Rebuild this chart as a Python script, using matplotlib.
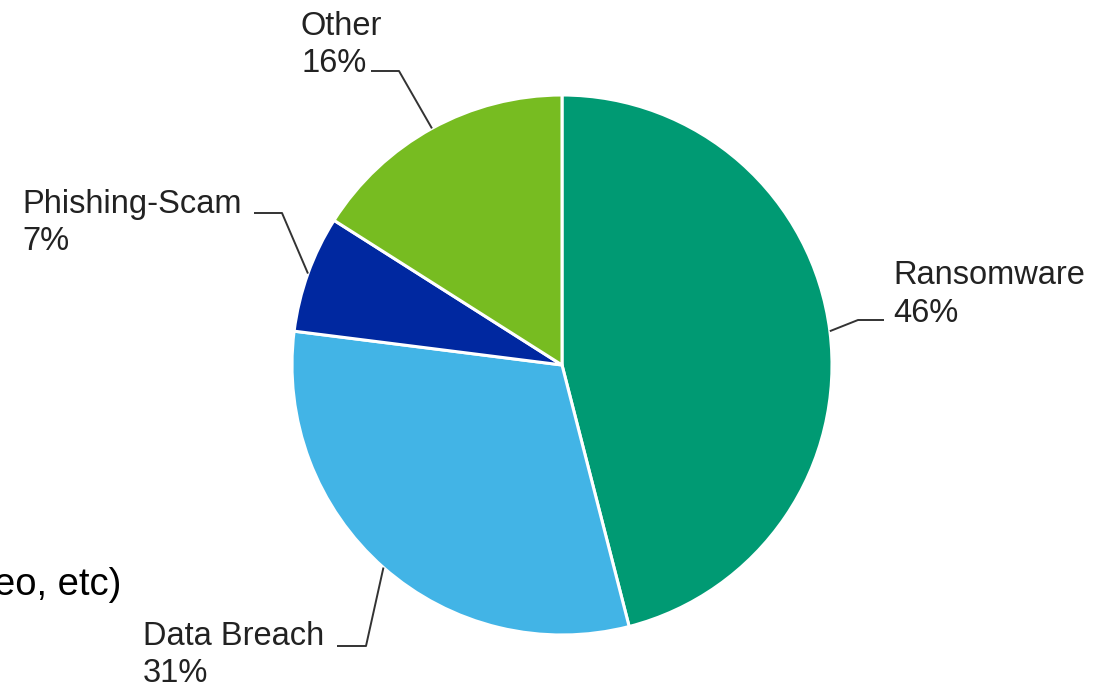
import numpy as np
import matplotlib.pyplot as plt

plt.rcParams['font.family'] = ['Liberation Sans', 'DejaVu Sans']

categories = ['Ransomware', 'Data Breach', 'Phishing-Scam', 'Other']
shares = [46, 31, 7, 16]
colors = ['#009A73', '#42B4E6', '#0028A0', '#77BC21']

W, H = 1118, 686
cx, cy, r = 562, 365, 270   # pixel layout of the pie (image coords, y down)

# label layout: elbow point (pixels), end of horizontal stroke, text x, baselines
label_layout = {
    'Ransomware':    dict(elbow=(858, 320), end=(884, 320), tx=893, base=(284, 322)),
    'Data Breach':   dict(elbow=(366, 646), end=(337, 646), tx=143, base=(645, 682)),
    'Phishing-Scam': dict(elbow=(282, 213), end=(254, 213), tx=22, base=(213, 250)),
    'Other':         dict(elbow=(399, 71), end=(371, 71), tx=301, base=(35, 72)),
}


def fy(y):
    return H - y


fig = plt.figure(figsize=(W / 100, H / 100), dpi=100)
ax = fig.add_axes([0, 0, 1, 1])

wedges, _ = ax.pie(shares, colors=colors, startangle=90, counterclock=False,
                   center=(cx, fy(cy)), radius=r,
                   wedgeprops=dict(edgecolor='white', linewidth=2.2))

for w, name, val in zip(wedges, categories, shares):
    mid = np.deg2rad((w.theta1 + w.theta2) / 2)
    px = cx + r * np.cos(mid)
    py = cy - r * np.sin(mid)
    lay = label_layout[name]
    xs = [px, lay['elbow'][0], lay['end'][0]]
    ys = [fy(py), fy(lay['elbow'][1]), fy(lay['end'][1])]
    ax.plot(xs, ys, color='#333333', lw=1.4, solid_capstyle='butt')
    ax.text(lay['tx'], fy(lay['base'][0]), name, fontsize=23.5, color='#222222',
            va='baseline', ha='left')
    ax.text(lay['tx'], fy(lay['base'][1]), f'{val}%', fontsize=23.5, color='#222222',
            va='baseline', ha='left')

# leftover caption text cut at the left edge
ax.text(121, fy(595), 'eo, etc)', fontsize=27.5, color='black', va='baseline', ha='right')

ax.set_xlim(0, W)
ax.set_ylim(0, H)
ax.set_aspect('equal')
ax.axis('off')

fig.savefig('out.png', dpi=100)
